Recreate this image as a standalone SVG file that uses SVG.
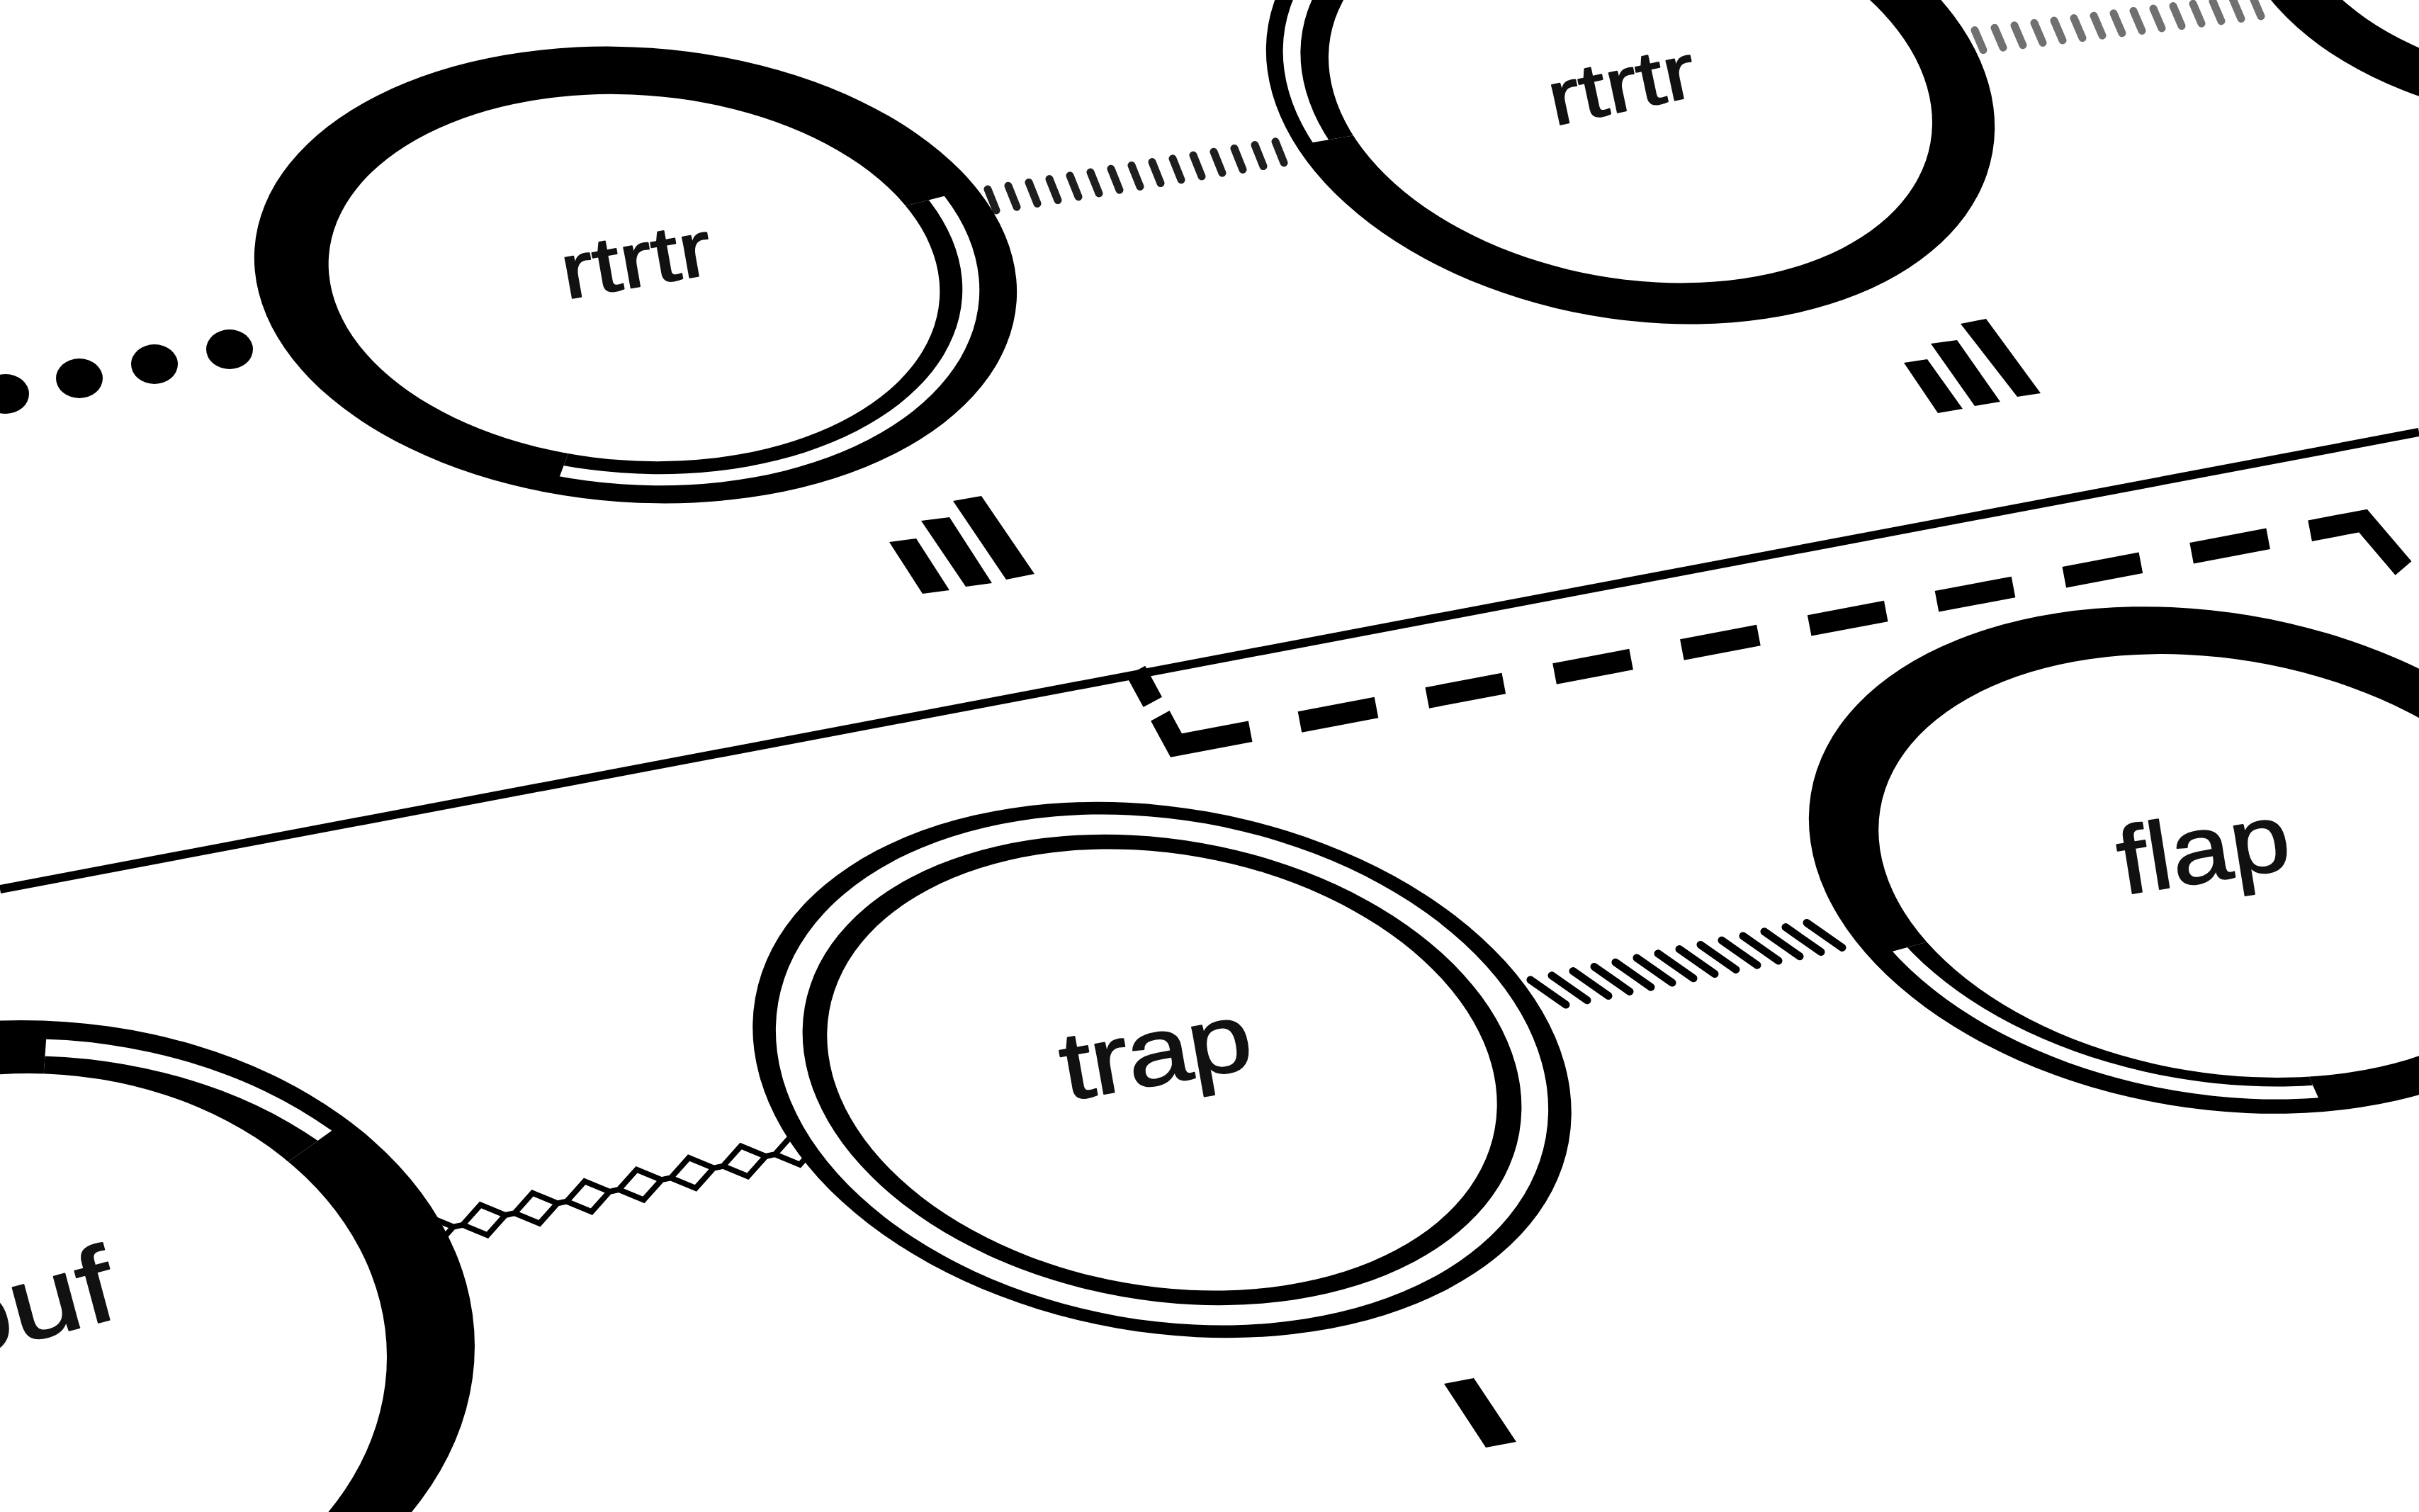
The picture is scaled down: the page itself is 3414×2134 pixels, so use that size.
<svg xmlns="http://www.w3.org/2000/svg" width="3414" height="2134" viewBox="0 0 3414 2134">
<style>
.blk{fill:#000}
.wht{fill:#fff}
.lbl{font-family:"Liberation Sans",Arial,Helvetica,sans-serif;fill:#111;stroke:#111;stroke-width:2;stroke-linejoin:round}
.tick{fill:none;stroke-linecap:round}
</style>
<defs>
<clipPath id="wA" clipPathUnits="userSpaceOnUse"><polygon points="897,388 1837,148 1900,1000 683,956"/></clipPath>
<clipPath id="wB" clipPathUnits="userSpaceOnUse"><polygon points="2301,125 1359,285 1300,-500 2301,-500"/></clipPath>
<clipPath id="wD" clipPathUnits="userSpaceOnUse"><polygon points="34,1906 94,1060 874,1060 874,1306"/></clipPath>
<clipPath id="wF" clipPathUnits="userSpaceOnUse"><polygon points="3125,1218 2237,1462 2237,1900 3415,1900 3415,1872"/></clipPath>
</defs>
<rect width="3414" height="2134" fill="#fff"/>

<g id="lanes">
<line x1="0" y1="1255" x2="3414" y2="610" stroke="#000" stroke-width="12"/>
<path d="M1603,947 L1660,1052 L3335,735 L3392,802" fill="none" stroke="#000" stroke-width="30" stroke-linejoin="miter" stroke-dasharray="50 22 154 71 110 73 110 73 110 73 110 73 110 73 110 73 110 73 110 60 240"/>
</g>

<g id="connectors">
<g id="dots" class="blk">
<ellipse cx="8" cy="556" rx="33" ry="28"/>
<ellipse cx="112" cy="534" rx="33" ry="28"/>
<ellipse cx="218" cy="514" rx="33" ry="28"/>
<ellipse cx="324" cy="493" rx="33" ry="28"/>
<ellipse cx="430" cy="472" rx="33" ry="28"/>
</g>
<path id="hatch-ab" class="tick" stroke="#1e1e1e" stroke-width="11" d="M1394,267 l12,30 m17,-34.8 l12,30 m17,-34.8 l12,30 m17,-34.8 l12,30 m17,-34.8 l12,30 m17,-34.8 l12,30 m17,-34.8 l12,30 m17,-34.8 l12,30 m17,-34.8 l12,30 m17,-34.8 l12,30 m17,-34.8 l12,30 m17,-34.8 l12,30 m17,-34.8 l12,30 m17,-34.8 l12,30 m17,-34.8 l12,30"/>
<path id="hatch-bc" class="tick" stroke="#707070" stroke-width="11" d="M2759,46 l12,28 m16,-31.4 l12,28 m16,-31.4 l12,28 m16,-31.4 l12,28 m16,-31.4 l12,28 m16,-31.4 l12,28 m16,-31.4 l12,28 m16,-31.4 l12,28 m16,-31.4 l12,28 m16,-31.4 l12,28 m16,-31.4 l12,28 m16,-31.4 l12,28 m16,-31.4 l12,28 m16,-31.4 l12,28 m16,-31.4 l12,28 m16,-31.4 l12,28"/>
<path id="hatch-ef" class="tick" stroke="#000" stroke-width="11" d="M2160,1383 l50,35 m-20,-41.2 l50,35 m-20,-41.2 l50,35 m-20,-41.2 l50,35 m-20,-41.2 l50,35 m-20,-41.2 l50,35 m-20,-41.2 l50,35 m-20,-41.2 l50,35 m-20,-41.2 l50,35 m-20,-41.2 l50,35 m-20,-41.2 l50,35 m-20,-41.2 l50,35 m-20,-41.2 l50,35 m-20,-41.2 l50,35"/>
<path id="diamonds-de" fill="none" stroke="#000" stroke-width="8" stroke-linejoin="miter" d="M579.3,1745.4 l25.3,-28.3 35.1,14.5 -25.3,28.3z M652.8,1728.8 l25.3,-28.3 35.1,14.5 -25.3,28.3z M726.3,1712.2 l25.3,-28.3 35.1,14.5 -25.3,28.3z M799.8,1695.6 l25.3,-28.3 35.1,14.5 -25.3,28.3z M873.3,1679 l25.3,-28.3 35.1,14.5 -25.3,28.3z M946.8,1662.4 l25.3,-28.3 35.1,14.5 -25.3,28.3z M1020.3,1645.8 l25.3,-28.3 35.1,14.5 -25.3,28.3z M1093.8,1629.2 l25.3,-28.3 35.1,14.5 -25.3,28.3z M639.7,1731.6 l13.1,-2.8 M713.2,1715 l13.1,-2.8 M786.7,1698.4 l13.1,-2.8 M860.2,1681.8 l13.1,-2.8 M933.7,1665.2 l13.1,-2.8 M1007.2,1648.6 l13.1,-2.8 M1080.7,1632 l13.1,-2.8"/>
</g>

<g id="node-rtrtr-1">
<ellipse class="blk" cx="897" cy="388" rx="539" ry="321" transform="rotate(4 897 388)"/>
<g clip-path="url(#wA)">
<ellipse class="wht" cx="897" cy="388" rx="486" ry="296" transform="rotate(4 897 388)"/>
<ellipse class="blk" cx="897" cy="388" rx="462" ry="280" transform="rotate(4 897 388)"/>
</g>
<ellipse class="wht" cx="895" cy="392" rx="432" ry="258" transform="rotate(4 895 392)"/>
<text class="lbl" font-size="110" text-anchor="middle" transform="translate(904 404) rotate(-10) scale(1.25 1)">rtrtr</text>
</g>

<g id="node-rtrtr-2">
<ellipse class="blk" cx="2301" cy="125" rx="519" ry="325" transform="rotate(10 2301 125)"/>
<g clip-path="url(#wB)">
<ellipse class="wht" cx="2301" cy="125" rx="495" ry="305" transform="rotate(10 2301 125)"/>
<ellipse class="blk" cx="2301" cy="125" rx="470" ry="290" transform="rotate(10 2301 125)"/>
</g>
<ellipse class="wht" cx="2301" cy="127" rx="430" ry="266" transform="rotate(10 2301 127)"/>
<text class="lbl" font-size="108" text-anchor="middle" transform="translate(2296 156) rotate(-12) scale(1.25 1)">rtrtr</text>
</g>

<g id="node-partial-3">
<ellipse class="blk" cx="3690" cy="-140" rx="539" ry="321"/>
<ellipse class="wht" cx="3695" cy="-140" rx="460" ry="262"/>
</g>

<g id="node-ouf">
<ellipse class="blk" cx="30" cy="1900" rx="640" ry="460"/>
<g clip-path="url(#wD)">
<ellipse class="wht" cx="34" cy="1906" rx="612" ry="440"/>
<ellipse class="blk" cx="34" cy="1906" rx="590" ry="416"/>
</g>
<ellipse class="wht" cx="40" cy="1915" rx="506" ry="400"/>
<text class="lbl" font-size="150" text-anchor="end" transform="translate(172 1858) rotate(-15) scale(1.2 1)">ouf</text>
</g>

<g id="node-trap">
<ellipse class="blk" cx="1640" cy="1510" rx="583" ry="370" transform="rotate(10 1640 1510)"/>
<ellipse class="wht" cx="1640" cy="1510" rx="550" ry="353" transform="rotate(10 1640 1510)"/>
<ellipse class="blk" cx="1640" cy="1510" rx="512" ry="325" transform="rotate(10 1640 1510)"/>
<ellipse class="wht" cx="1640" cy="1510" rx="477" ry="305" transform="rotate(10 1640 1510)"/>
<text class="lbl" font-size="135" text-anchor="middle" letter-spacing="-2" transform="translate(1638 1530) rotate(-10) scale(1.2 1)">trap</text>
</g>

<g id="node-flap">
<ellipse class="blk" cx="3118" cy="1214" rx="570" ry="350" transform="rotate(9.5 3118 1214)"/>
<g clip-path="url(#wF)">
<ellipse class="wht" cx="3125" cy="1218" rx="538" ry="326" transform="rotate(9.5 3125 1218)"/>
<ellipse class="blk" cx="3125" cy="1218" rx="516" ry="308" transform="rotate(9.5 3125 1218)"/>
</g>
<ellipse class="wht" cx="3132" cy="1222" rx="485" ry="292" transform="rotate(9.5 3132 1222)"/>
<text class="lbl" font-size="135" text-anchor="middle" transform="translate(3117 1244) rotate(-9) scale(1.12 1)">flap</text>
</g>

<g id="marks" class="blk">
<polygon points="1255,765 1293,760 1340,833 1302,838"/>
<polygon points="1300,735 1340,730 1400,823 1363,828"/>
<polygon points="1345,707 1385,700 1460,810 1420,818"/>
<polygon points="2687,512 2720,507 2770,577 2735,583"/>
<polygon points="2725,485 2762,480 2823,567 2787,573"/>
<polygon points="2767,457 2803,450 2880,555 2847,560"/>
<polygon points="2038,1953 2080,1945 2140,2035 2097,2043"/>
</g>
</svg>
